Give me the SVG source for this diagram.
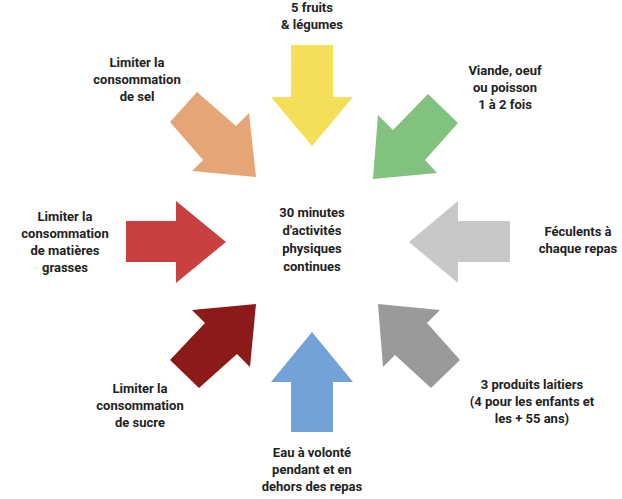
<svg xmlns="http://www.w3.org/2000/svg" width="622" height="499" viewBox="0 0 622 499">
<style>
text{font-family:Roboto,"Liberation Sans",sans-serif;font-weight:bold;font-size:13px;fill:#222;text-anchor:middle}
</style>
<rect width="622" height="499" fill="#fff"/>
<g id="arrows">
<polygon id="a-top" fill="#f5de58" points="291,45 333,45 333,97 353,97 312,146 271,97 291,97"/>
<polygon id="a-bottom" fill="#72a2d7" points="291,432 333,432 333,382 353,382 312,332 271,382 291,382"/>
<polygon id="a-left" fill="#c8403f" points="126,221 176,221 176,201 226,242 176,283 176,262 126,262"/>
<polygon id="a-right" fill="#c8c8c8" points="510,221 458,221 458,201 409,242 458,283 458,262 510,262"/>
<polygon id="a-tl" fill="#e5a575" points="256,177 192,171 203,160 170,122 197,92 236,126 249,113"/>
<polygon id="a-tr" fill="#82c27f" points="373,179 378,115 393,130 428,94 458,123 425,160 437,173"/>
<polygon id="a-bl" fill="#8b1a18" points="256,304 192,310 205,323 170,360 199,388 237,354 250,367"/>
<polygon id="a-br" fill="#9a9a9a" points="378,304 440,310 427,323 460,360 431,388 395,355 383,367"/>
</g>
<g id="center"><text x="312" y="217">30 minutes</text><text x="312" y="235">d'activités</text><text x="312" y="253">physiques</text><text x="312" y="271">continues</text></g>
<g id="n-top"><text x="312" y="12">5 fruits</text><text x="312" y="29">&amp; légumes</text></g>
<g id="n-tr"><text x="505" y="75">Viande, oeuf</text><text x="505" y="92">ou poisson</text><text x="505" y="109">1 à 2 fois</text></g>
<g id="n-tl"><text x="137" y="67">Limiter la</text><text x="137" y="84">consommation</text><text x="137" y="101">de sel</text></g>
<g id="n-left"><text x="65" y="221">Limiter la</text><text x="65" y="238">consommation</text><text x="65" y="255">de matières</text><text x="65" y="272">grasses</text></g>
<g id="n-right"><text x="578" y="236">Féculents à</text><text x="578" y="253">chaque repas</text></g>
<g id="n-bl"><text x="140" y="393">Limiter la</text><text x="140" y="410">consommation</text><text x="140" y="427">de sucre</text></g>
<g id="n-br"><text x="532" y="389">3 produits laitiers</text><text x="532" y="406">(4 pour les enfants et</text><text x="532" y="423">les + 55 ans)</text></g>
<g id="n-bottom"><text x="312" y="457">Eau à volonté</text><text x="312" y="474">pendant et en</text><text x="312" y="491">dehors des repas</text></g>
</svg>
